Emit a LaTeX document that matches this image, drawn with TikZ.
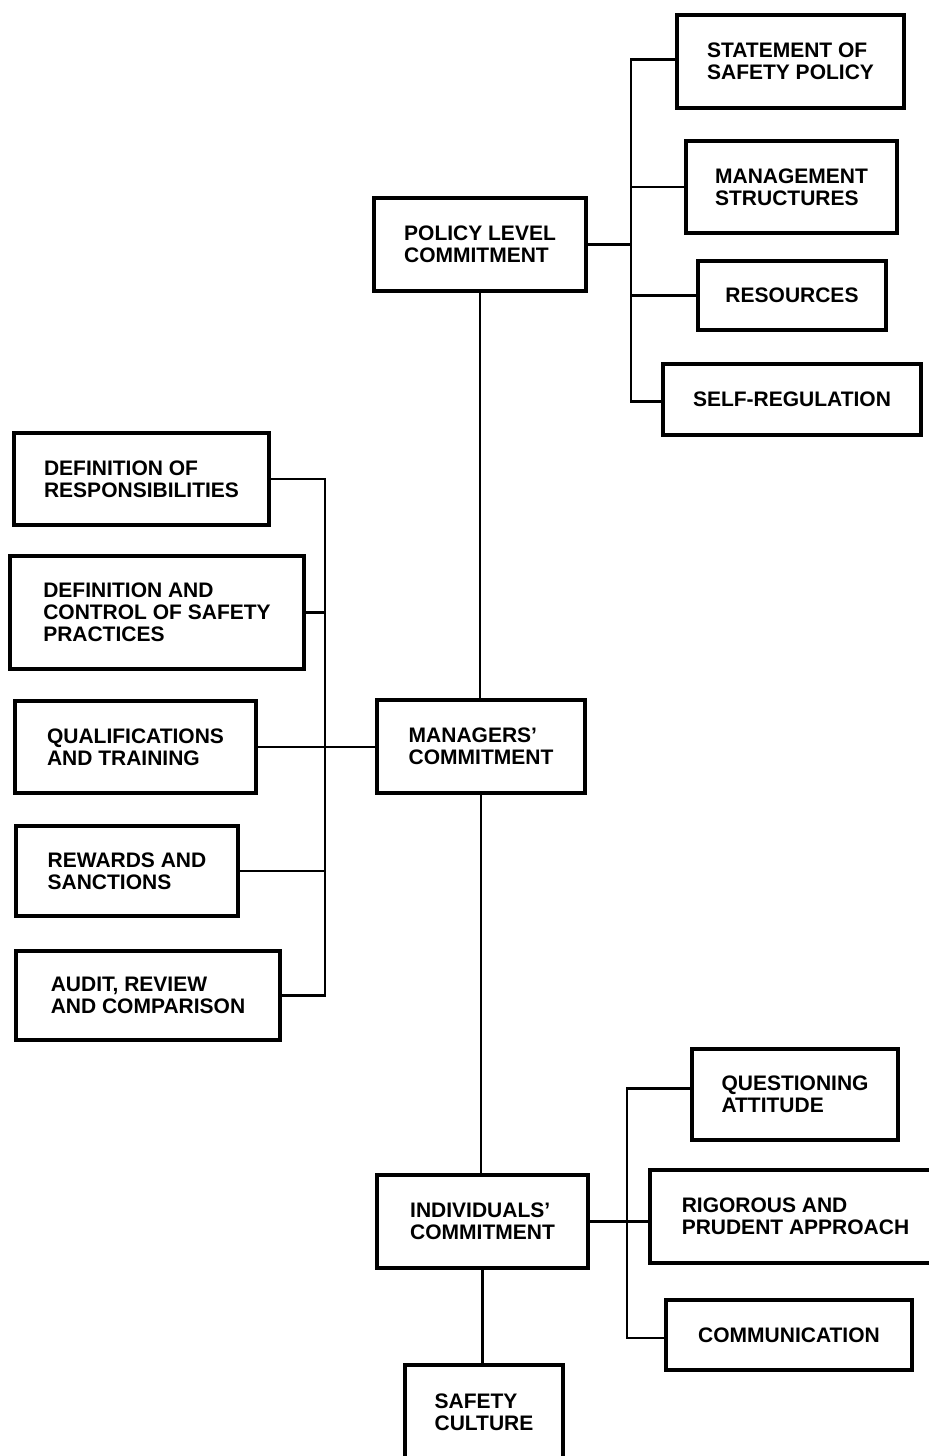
\documentclass[tikz,border=0pt]{standalone}
\usepackage{fontspec}
\setsansfont{Liberation Sans}
\usetikzlibrary{positioning}
\tikzstyle{box} = [draw, line width=1.6pt, align=left, inner sep=0pt, font=\sffamily\bfseries\fontsize{10.5}{11}\selectfont]
\tikzstyle{line} = [draw, line width=1.1pt]

\begin{document}
\begin{tikzpicture}[x=0.5pt,y=-0.5pt]
	\useasboundingbox (0,0) rectangle (929,1456);
	% Main column
	\node[box, minimum width=106pt, minimum height=46.5pt] (policy) at (480,244.5) {POLICY LEVEL\\COMMITMENT};
	\node[box, minimum width=104pt, minimum height=46.5pt] (managers) at (481,746.5) {MANAGERS'\\COMMITMENT};
	\node[box, minimum width=105.5pt, minimum height=46.5pt] (indiv) at (482.5,1221.5) {INDIVIDUALS'\\COMMITMENT};
	\node[box, minimum width=79pt, minimum height=47pt] (safety) at (484,1412) {SAFETY\\CULTURE};
	% Policy level items
	\node[box, minimum width=113.5pt, minimum height=46.5pt] (stmt) at (790.5,61.5) {STATEMENT OF\\SAFETY POLICY};
	\node[box, minimum width=105.5pt, minimum height=46pt] (mgmt) at (791.5,187) {MANAGEMENT\\STRUCTURES};
	\node[box, minimum width=94pt, minimum height=34.5pt] (res) at (792,295.5) {RESOURCES};
	\node[box, minimum width=129pt, minimum height=35.5pt] (selfreg) at (792,399.5) {SELF-REGULATION};
	% Managers' items
	\node[box, minimum width=127.5pt, minimum height=46pt] (resp) at (141.5,479) {DEFINITION OF\\RESPONSIBILITIES};
	\node[box, minimum width=147pt, minimum height=56.5pt] (control) at (157,612.5) {DEFINITION AND\\CONTROL OF SAFETY\\PRACTICES};
	\node[box, minimum width=120.5pt, minimum height=46pt] (qual) at (135.5,747) {QUALIFICATIONS\\AND TRAINING};
	\node[box, minimum width=111pt, minimum height=45pt] (rewards) at (127,871) {REWARDS AND\\SANCTIONS};
	\node[box, minimum width=132pt, minimum height=44.5pt] (audit) at (148,995.5) {AUDIT, REVIEW\\AND COMPARISON};
	% Individuals' items
	\node[box, minimum width=103pt, minimum height=45.5pt] (quest) at (795,1094.5) {QUESTIONING\\ATTITUDE};
	\node[box, minimum width=145.5pt, minimum height=46.5pt] (rigor) at (795.5,1216.5) {RIGOROUS AND\\PRUDENT APPROACH};
	\node[box, minimum width=123pt, minimum height=35pt] (comm) at (789,1335) {COMMUNICATION};

	% Buses
	\coordinate (pbus) at (631,0);
	\coordinate (lbus) at (325,0);
	\coordinate (ibus) at (627,0);

	% Main line
	\draw[line] (policy.south) -- (policy.south |- managers.north);
	\draw[line] (managers.south) -- (managers.south |- indiv.north);
	\draw[line] (indiv.south) -- (indiv.south |- safety.north);

	% Policy branches
	\draw[line] (policy.east) -- (policy.east -| pbus);
	\draw[line] ([yshift=1pt]stmt.west) -- ([yshift=1pt]stmt.west -| pbus) -- ([yshift=-1pt]selfreg.west -| pbus) -- ([yshift=-1pt]selfreg.west);
	\draw[line] (mgmt.west) -- (mgmt.west -| pbus);
	\draw[line] (res.west) -- (res.west -| pbus);

	% Managers' branches
	\draw[line] (qual.east) -- (qual.east -| managers.west);
	\draw[line] (resp.east) -- (resp.east -| lbus) -- (audit.east -| lbus) -- (audit.east);
	\draw[line] (control.east) -- (control.east -| lbus);
	\draw[line] (rewards.east) -- (rewards.east -| lbus);

	% Individuals' branches
	\draw[line] (indiv.east) -- (indiv.east -| rigor.west);
	\draw[line] ([yshift=3pt]quest.west) -- ([yshift=3pt]quest.west -| ibus) -- ([yshift=-1.5pt]comm.west -| ibus) -- ([yshift=-1.5pt]comm.west);
\end{tikzpicture}
\end{document}
